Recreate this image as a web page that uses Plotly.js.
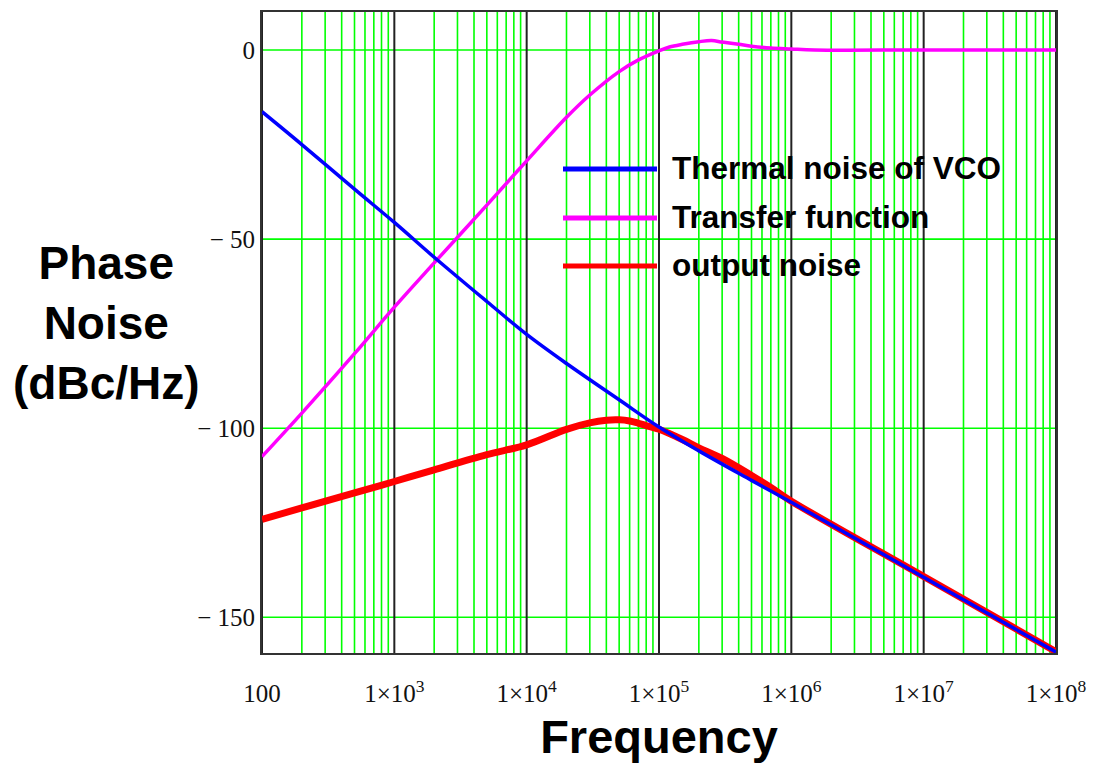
<!DOCTYPE html>
<html>
<head>
<meta charset="utf-8">
<script src="https://cdn.plot.ly/plotly-3.0.1.min.js"></script>
<style>
  html, body { margin: 0; padding: 0; background: #fff; }
  #chart { width: 1097px; height: 768px; }
</style>
</head>
<body>
<div id="chart"></div>
<script>
// Offset frequency samples (Hz) and levels (dB) for each curve
const vcoFreq = [100, 200, 500, 1e3, 2e3, 5e3, 1e4, 2e4, 5e4, 1e5, 2e5, 5e5, 1e6, 1e7, 1e8];
const vcoNoise = [-16.3, -25.0, -36.8, -45.6, -54.8, -66.5, -75.2, -82.9, -92.5, -99.7, -106.0, -113.8, -119.6, -139.4, -159.2];

const tfFreq = [100, 200, 500, 1e3, 2e3, 5e3, 1e4, 2e4, 3e4, 5e4, 7e4, 1e5, 1.2e5, 1.5e5, 2e5, 2.5e5, 3e5, 4e5, 5e5, 7e5, 1e6, 1.5e6, 1e7, 1e8];
const transferFn = [-107.5, -96.0, -80.3, -68.0, -56.3, -41.0, -29.3, -17.8, -11.9, -5.7, -2.6, -0.2, 0.8, 1.5, 2.2, 2.5, 2.1, 1.5, 1.0, 0.5, 0.25, 0, 0, 0];

const outFreq = [100, 200, 500, 1e3, 2e3, 5e3, 1e4, 2e4, 3e4, 4e4, 5e4, 6e4, 7e4, 8e4, 1e5, 1.5e5, 2e5, 3e5, 5e5, 7e5, 1e6, 1e7, 1e8];
const outputNoise = [-124.1, -121.1, -117.1, -114.1, -111.0, -107.0, -104.4, -100.3, -98.6, -97.9, -97.8, -98.1, -98.7, -99.3, -100.3, -103.0, -105.2, -108.0, -112.5, -115.7, -119.3, -139.2, -159.1];

// Legend entries
const seriesNames = ['Thermal noise of VCO', 'Transfer function', 'output noise'];
const seriesColors = ['#0000ff', '#ff00ff', '#ff0000'];

// Axis ticks
const xTickVals = [100, 1e3, 1e4, 1e5, 1e6, 1e7, 1e8];
const xTickText = ['100', '1×10<sup>3</sup>', '1×10<sup>4</sup>', '1×10<sup>5</sup>', '1×10<sup>6</sup>', '1×10<sup>7</sup>', '1×10<sup>8</sup>'];
const yTickVals = [0, -50, -100, -150];
const yTickText = ['0', '− 50', '− 100', '− 150'];

const W = 1097, H = 768;
const M = { l: 262, r: 41, t: 12, b: 115 };
const plotW = W - M.l - M.r, plotH = H - M.t - M.b;
const px = x => (x - M.l) / plotW;       // page x -> paper x
const py = y => (H - M.b - y) / plotH;   // page y -> paper y

const GREEN = '#00ff00';
const shapes = [];

// Grid: green lines at 2..9 of each decade, dark lines at the decades,
// green lines at the labelled dB levels
for (let d = 100; d < 1e8; d *= 10) {
  for (let k = 2; k <= 9; k++) {
    shapes.push({ type: 'line', layer: 'below', xref: 'x', yref: 'paper',
      x0: k * d, x1: k * d, y0: 0, y1: 1, line: { color: GREEN, width: 1.6 } });
  }
}
yTickVals.forEach(v => {
  shapes.push({ type: 'line', layer: 'below', xref: 'paper', yref: 'y',
    x0: 0, x1: 1, y0: v, y1: v, line: { color: GREEN, width: 1.6 } });
});
xTickVals.forEach(v => {
  shapes.push({ type: 'line', layer: 'below', xref: 'x', yref: 'paper',
    x0: v, x1: v, y0: 0, y1: 1, line: { color: '#222', width: 2 } });
});

const traces = [
  { x: tfFreq, y: transferFn, name: seriesNames[1], mode: 'lines',
    line: { color: seriesColors[1], width: 3.5, shape: 'spline', smoothing: 1 } },
  { x: outFreq, y: outputNoise, name: seriesNames[2], mode: 'lines',
    line: { color: seriesColors[2], width: 7, shape: 'spline', smoothing: 1 } },
  { x: vcoFreq, y: vcoNoise, name: seriesNames[0], mode: 'lines',
    line: { color: seriesColors[0], width: 3.5, shape: 'spline', smoothing: 1 } }
];

const tickFont = { family: 'Liberation Serif, Times New Roman, serif', size: 25, color: '#111' };
const boldFont = (size) => ({ family: 'Liberation Sans, Arial, sans-serif', size: size, color: '#000', weight: 'bold' });

// Hand-built legend: swatch line + label per series
const legendRowsY = [169, 218, 266];
const annotations = [];
seriesNames.forEach((name, i) => {
  shapes.push({ type: 'line', xref: 'paper', yref: 'paper',
    x0: px(563), x1: px(657), y0: py(legendRowsY[i]), y1: py(legendRowsY[i]),
    line: { color: seriesColors[i], width: 5 } });
  annotations.push({ xref: 'paper', yref: 'paper', x: px(670), y: py(legendRowsY[i] - 1),
    xanchor: 'left', yanchor: 'middle', showarrow: false, text: name, font: boldFont(31.5) });
});

annotations.push({ xref: 'paper', yref: 'paper', x: px(106), y: py(323),
  xanchor: 'center', yanchor: 'middle', showarrow: false, align: 'center',
  text: 'Phase<br>Noise<br>(dBc/Hz)', font: boldFont(46) });

const layout = {
  width: W, height: H,
  margin: M,
  paper_bgcolor: '#fff', plot_bgcolor: '#fff',
  showlegend: false,
  xaxis: {
    type: 'log', range: [2, 8],
    tickvals: xTickVals, ticktext: xTickText,
    tickfont: tickFont, ticks: '', ticklabelstandoff: 17,
    showgrid: false,
    showline: true, mirror: true, linecolor: '#333', linewidth: 2,
    zeroline: false,
    title: { text: 'Frequency', font: boldFont(47), standoff: 14 }
  },
  yaxis: {
    range: [-159.45, 10.05],
    tickvals: yTickVals, ticktext: yTickText,
    tickfont: tickFont, ticks: '',
    showgrid: false,
    showline: true, mirror: true, linecolor: '#333', linewidth: 2,
    zeroline: false
  },
  shapes: shapes,
  annotations: annotations
};

Plotly.newPlot('chart', traces, layout, { displayModeBar: false, staticPlot: true });
</script>
</body>
</html>
